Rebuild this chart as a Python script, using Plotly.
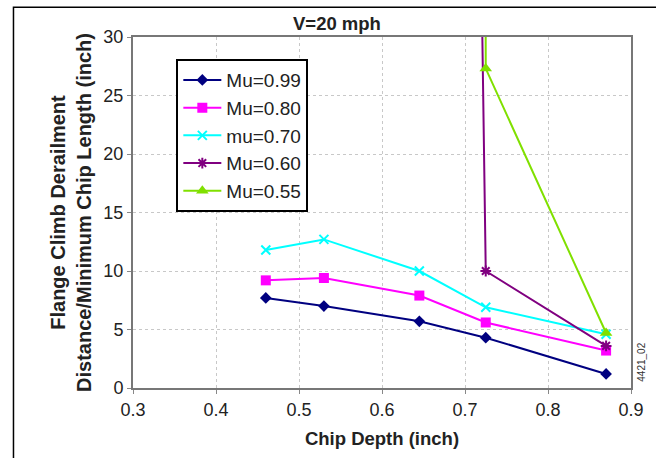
import plotly.graph_objects as go

chip_depth = [0.46, 0.53, 0.645, 0.725, 0.87]
mu_099 = [7.7, 7.0, 5.7, 4.3, 1.2]
mu_080 = [9.2, 9.4, 7.9, 5.6, 3.2]
mu_070 = [11.8, 12.7, 10.0, 6.9, 4.6]
mu_060 = [None, None, 400.0, 10.0, 3.6]
mu_055 = [None, None, 3000.0, 27.3, 4.7]

series = [
    ("Mu=0.99", mu_099, "#000080", "diamond", 9, None),
    ("Mu=0.80", mu_080, "#FF00FF", "square", 10, None),
    ("mu=0.70", mu_070, "#00FFFF", "x-thin-open", 9, 2),
    ("Mu=0.60", mu_060, "#800080", "asterisk-open", 9, 2),
    ("Mu=0.55", mu_055, "#80E000", "triangle-up", 11, None),
]

fig = go.Figure()
for name, ys, col, sym, size, lw in series:
    marker = dict(symbol=sym, size=size, color=col)
    if lw:
        marker["line"] = dict(color=col, width=lw)
    fig.add_trace(go.Scatter(
        x=chip_depth, y=ys, name=name, mode="lines+markers",
        line=dict(color=col, width=2), marker=marker,
        connectgaps=False, cliponaxis=True,
    ))

fig.update_layout(
    width=656, height=458,
    margin=dict(l=133, r=19, t=37, b=70),
    paper_bgcolor="white", plot_bgcolor="white",
    font=dict(family="Liberation Sans, Arial", size=18, color="#222"),
    showlegend=True,
    legend=dict(
        x=0.087, y=0.937, xanchor="left", yanchor="top",
        bgcolor="white", bordercolor="black", borderwidth=2,
        font=dict(size=19, color="#222"),
        itemwidth=38, tracegroupgap=0,
    ),
    annotations=[
        dict(text="<b>V=20 mph</b>", x=0.409, y=1.0, xref="paper", yref="paper",
             xanchor="center", yanchor="bottom", yshift=1, showarrow=False,
             font=dict(size=18.5, color="#222")),
        dict(text="4421_02", x=1.0, xref="paper", xshift=11, y=0.072, yref="paper",
             textangle=-90, showarrow=False, font=dict(size=10, color="#333"),
             xanchor="center", yanchor="middle"),
    ],
    shapes=[
        dict(type="rect", xref="paper", yref="paper",
             x0=-0.240, x1=1.2, y0=-0.4, y1=1.085,
             line=dict(color="black", width=1.5), layer="below"),
    ],
)

fig.update_xaxes(
    range=[0.3, 0.9], dtick=0.1, tick0=0.3,
    showgrid=True, gridcolor="#c8c8c8", griddash="dot", gridwidth=1,
    showline=True, linecolor="#777", linewidth=2, mirror=True,
    ticks="outside", ticklen=4, tickcolor="#888",
    title=dict(text="<b>Chip Depth (inch)</b>", font=dict(size=18.5), standoff=13),
    zeroline=False, tickformat=".1f",
)
fig.update_yaxes(
    range=[0, 30], dtick=5,
    showgrid=True, gridcolor="#c8c8c8", griddash="dot", gridwidth=1,
    showline=True, linecolor="#777", linewidth=2, mirror=True,
    ticks="outside", ticklen=4, tickcolor="#888",
    title=dict(text="<b>Flange Climb Derailment<br>Distance/Minimum Chip Length (inch)</b>",
               font=dict(size=20), standoff=6),
    zeroline=False,
)

fig.write_html("out.html", config={"displayModeBar": False},
               post_script="document.body.style.margin='0';")
